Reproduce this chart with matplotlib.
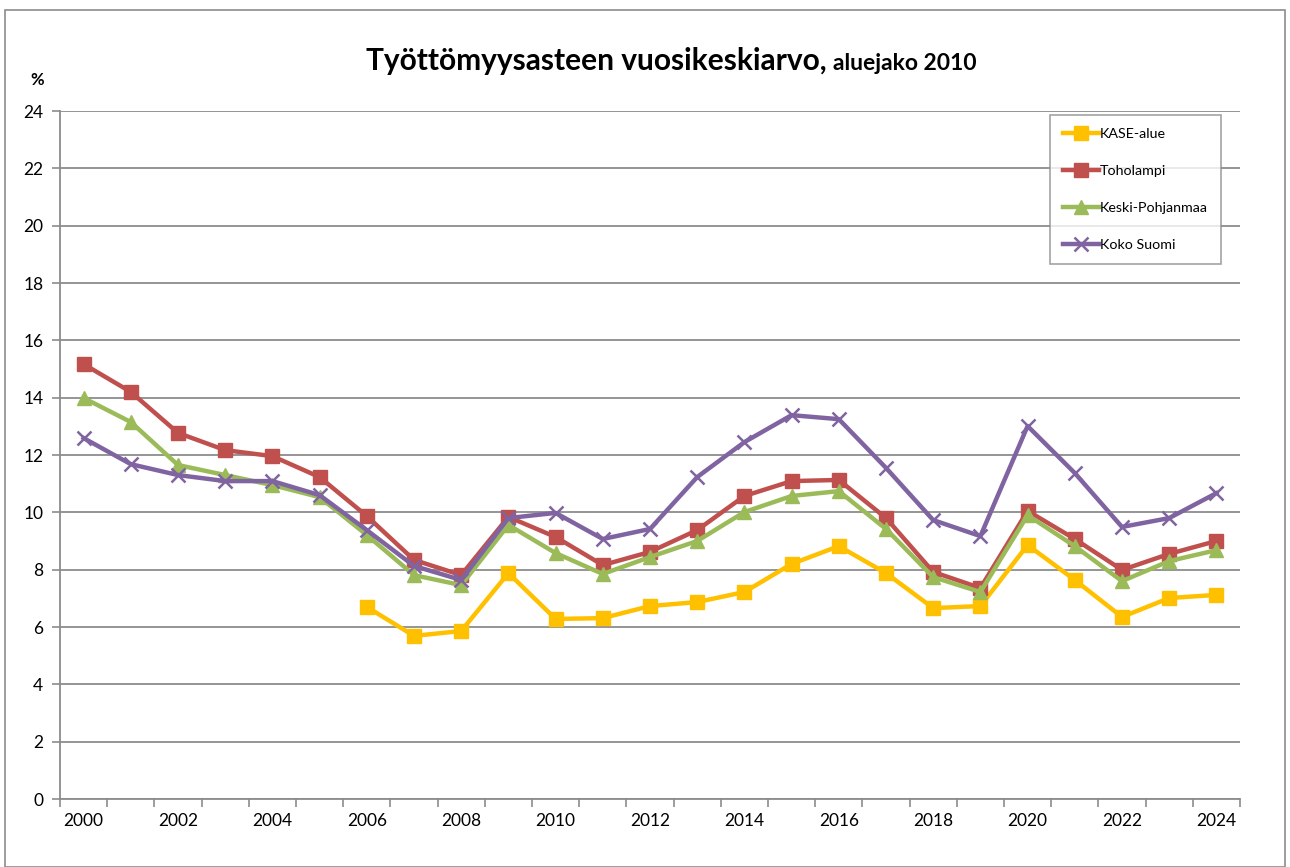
import matplotlib
matplotlib.use("Agg")
import matplotlib.pyplot as plt
from matplotlib.patches import Rectangle

plt.rcParams['font.family'] = ['Lato', 'DejaVu Sans']

# --- DATA ---
vuodet = list(range(2000, 2025))
kase_vuodet = list(range(2006, 2025))
kase_alue = [6.70, 5.69, 5.86, 7.88, 6.28, 6.31, 6.73, 6.87, 7.22, 8.20,
             8.82, 7.88, 6.66, 6.73, 8.86, 7.64, 6.35, 7.01, 7.12]
toholampi = [15.17, 14.20, 12.77, 12.17, 11.96, 11.23, 9.87, 8.34, 7.81, 9.84,
             9.14, 8.16, 8.62, 9.38, 10.57, 11.09, 11.13, 9.80, 7.92, 7.36,
             10.05, 9.07, 7.99, 8.55, 9.00]
keski_pohjanmaa = [13.99, 13.15, 11.65, 11.30, 10.95, 10.53, 9.21, 7.81, 7.46, 9.56,
                   8.58, 7.85, 8.44, 9.00, 10.01, 10.57, 10.74, 9.42, 7.74, 7.22,
                   9.90, 8.82, 7.60, 8.30, 8.68]
koko_suomi = [12.59, 11.68, 11.30, 11.09, 11.09, 10.60, 9.38, 8.13, 7.64, 9.80,
              9.98, 9.07, 9.42, 11.23, 12.45, 13.39, 13.25, 11.55, 9.73, 9.17,
              13.01, 11.37, 9.49, 9.80, 10.67]

sarjat = [
    ("KASE-alue", kase_vuodet, kase_alue, "#FFC000", "s", 10),
    ("Toholampi", vuodet, toholampi, "#C0504D", "s", 10),
    ("Keski-Pohjanmaa", vuodet, keski_pohjanmaa, "#9BBB59", "^", 10),
    ("Koko Suomi", vuodet, koko_suomi, "#8064A2", "x", 10),
]

# --- KUVA ---
fig = plt.figure(figsize=(12.9, 8.67), dpi=100)
ax = fig.add_axes([60/1290, 68/867, 1180/1290, 688/867])

# kehys koko kuvan ympärille
fig.patches.append(Rectangle((5/1290, 0), 1280/1290, 857/867, transform=fig.transFigure,
                             fill=False, edgecolor="#8c8c8c", linewidth=1.2))

harmaa = "#8c8c8c"
for nimi, x, y, vari, merkki, koko in sarjat:
    ax.plot(x, y, color=vari, linewidth=3.2, marker=merkki, markersize=koko,
            markeredgewidth=1.8 if merkki == "x" else 1.0, markeredgecolor=vari,
            label=nimi, zorder=3)

ax.set_ylim(0, 24)
ax.set_yticks(range(0, 25, 2))
ax.set_xlim(1999.5, 2024.5)
ax.set_xticks([v + 0.5 for v in range(1999, 2025)], minor=False)
ax.set_xticklabels([])
ax.set_xticks(range(2000, 2025, 2), minor=True)
ax.set_xticklabels([str(v) for v in range(2000, 2025, 2)], minor=True)
ax.tick_params(axis="x", which="major", length=6, color=harmaa, width=1.2, direction="out")
ax.tick_params(axis="x", which="minor", length=0, pad=10, labelsize=12.5)
ax.tick_params(axis="y", length=6, color=harmaa, width=1.2, labelsize=12.5, pad=6)

ax.yaxis.grid(True, color=harmaa, linewidth=1.3)
ax.set_axisbelow(True)
for s in ["top", "right"]:
    ax.spines[s].set_visible(False)
for s in ["left", "bottom"]:
    ax.spines[s].set_color(harmaa)
    ax.spines[s].set_linewidth(1.3)

# otsikko
fig.text(0.641, 1 - 70/867, "Työttömyysasteen vuosikeskiarvo,", ha="right", va="baseline",
         fontsize=21.5, fontweight="bold")
fig.text(0.646, 1 - 70/867, "aluejako 2010", ha="left", va="baseline",
         fontsize=16.5, fontweight="bold")
fig.text(37/1290, 1 - 80/867, "%", ha="center", va="center", fontsize=12, fontweight="bold")

leg = ax.legend(loc="upper left", bbox_to_anchor=((1050-60)/1180, (799-115)/688),
                fontsize=10.3, frameon=True, fancybox=False, edgecolor=harmaa,
                handlelength=2.5, labelspacing=1.75, borderpad=0.9, handletextpad=0.1,
                borderaxespad=0)
leg.get_frame().set_linewidth(1.2)

fig.savefig("out.png", dpi=100)
plt.close(fig)
